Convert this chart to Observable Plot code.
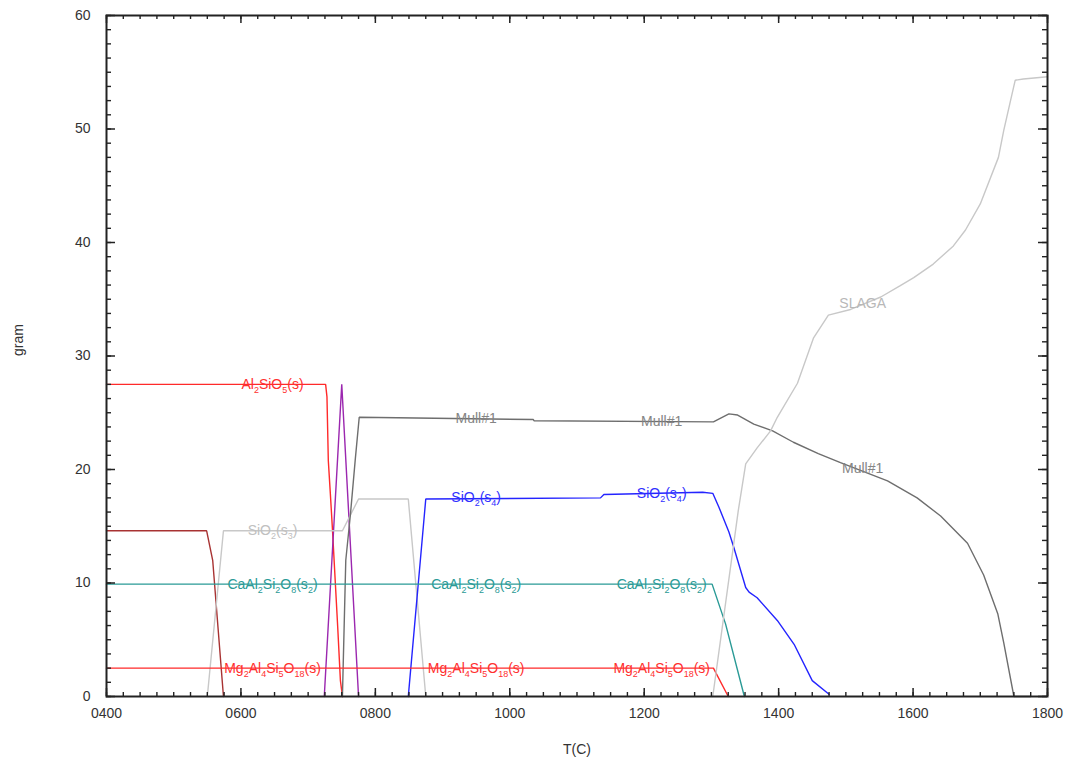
<!DOCTYPE html>
<html><head><meta charset="utf-8">
<script src="https://cdn.jsdelivr.net/npm/d3@7"></script>
<script src="https://cdn.jsdelivr.net/npm/@observablehq/plot@0.6"></script>
<style>body{margin:0;background:#fff;}</style>
</head><body><div id="chart"></div>
<script>
// ---- data: [T(C), gram] ----
const al2sio5 = [[400,27.5],[726,27.5],[728,26.4],[730,20.8],[733,17.9],[736,14.9],[744,6.1],[748,1.4],[751,0]];
const purpleSpike = [[724,0],[750,27.5],[775,0]];
const darkRed = [[400,14.6],[549,14.6],[558,12.0],[574,0]];
const sio2Light = [[550,0],[574,14.6],[751,14.6],[763,16.0],[775,17.4],[849,17.4],[875,0]];
const mull1 = [[751,0],[756,12],[763,16.1],[770,20.8],[776,24.6],[1035,24.4],[1036,24.3],[1303,24.2],[1326,24.9],[1339,24.8],[1363,24.0],[1391,23.4],[1422,22.4],[1459,21.4],[1492,20.6],[1562,19.0],[1606,17.5],[1641,15.9],[1681,13.5],[1705,10.7],[1726,7.3],[1735,4.7],[1750,0],[1775,0]];
const sio2s4 = [[849,0],[875,17.4],[1135,17.5],[1140,17.8],[1287,18.0],[1302,17.9],[1311,16.7],[1326,14.5],[1333,13.2],[1351,9.6],[1356,9.2],[1368,8.7],[1398,6.7],[1423,4.6],[1450,1.4],[1475,0.2]];
const caal2si2o8 = [[400,9.9],[1301,9.9],[1321,6.4],[1349,0]];
const mg2al4si5o18 = [[400,2.5],[1303,2.5],[1325,0]];
const slaga = [[1302,0],[1340,16.4],[1351,20.5],[1368,21.9],[1388,23.4],[1398,24.6],[1428,27.6],[1452,31.6],[1474,33.6],[1507,34.1],[1552,35.2],[1581,36.2],[1601,36.9],[1630,38.1],[1660,39.7],[1678,41.1],[1700,43.4],[1727,47.5],[1735,49.9],[1745,52.5],[1752,54.3],[1764,54.4],[1800,54.6]];

const seriesNames = ["Al2SiO5","purple","darkred","SiO2(s3)","Mull#1","SiO2(s4)","CaAl2Si2O8","Mg2Al4Si5O18","SLAGA"];
const seriesData  = [al2sio5, purpleSpike, darkRed, sio2Light, mull1, sio2s4, caal2si2o8, mg2al4si5o18, slaga];
const seriesColors = ["#ff2a2a","#9b27af","#a83232","#c8c8c8","#6e6e6e","#2424ff","#2a9a96","#ff2a2a","#c8c8c8"];

// labels drawn on the curves (underscore = subscript)
const labelTexts = ["Al_2SiO_5(s)","SiO_2(s_3)","CaAl_2Si_2O_8(s_2)","CaAl_2Si_2O_8(s_2)","CaAl_2Si_2O_8(s_2)",
  "Mg_2Al_4Si_5O_{18}(s)","Mg_2Al_4Si_5O_{18}(s)","Mg_2Al_4Si_5O_{18}(s)","SiO_2(s_4)","SiO_2(s_4)",
  "Mull#1","Mull#1","Mull#1","SLAGA"];
const labelT = [647,647,647,950,1226,647,950,1226,950,1226,950,1226,1525,1525];
const labelG = [27.5,14.6,9.9,9.9,9.9,2.5,2.5,2.5,17.5,17.9,24.5,24.2,20.1,34.6];
const labelColors = ["#ff3030","#c0c0c0","#2a9a96","#2a9a96","#2a9a96","#ff3030","#ff3030","#ff3030","#3030ff","#3030ff","#858585","#858585","#858585","#b8b8b8"];

const xTickValues = [400,600,800,1000,1200,1400,1600,1800];
const yTickValues = [0,10,20,30,40,50,60];
const xMinorStep = 25, yMinorStep = 1.25;

// ---- layout ----
const W = 1065, H = 765, ML = 106, MR = 18, MT = 15, MB = 69;
const FW = W - ML - MR, FH = H - MT - MB;
const font = "'Liberation Sans', Arial, sans-serif";
const axisColor = "#222";

const lineRows = seriesData.flatMap((arr, i) => arr.map(([T, g]) => ({T, g, name: seriesNames[i], color: seriesColors[i]})));
const labelRows = labelTexts.map((t, i) => ({text: t, T: labelT[i], g: labelG[i], color: labelColors[i]}));

const xMinor = d3.range(400, 1800 + 1e-9, xMinorStep);
const yMinor = d3.range(0, 60 + 1e-9, yMinorStep);

// inward tick marks on all four sides
const tickMarks = (len, major) => {
  const sw = major ? 1.5 : 1.4;
  const xs = major ? xTickValues : xMinor;
  const ys = major ? yTickValues : yMinor;
  return [
    Plot.ruleX(xs, {x: d => d, insetTop: FH - len, stroke: axisColor, strokeWidth: sw}),
    Plot.ruleX(xs, {x: d => d, insetBottom: FH - len, stroke: axisColor, strokeWidth: sw}),
    Plot.ruleY(ys, {y: d => d, insetRight: FW - len - 1, stroke: axisColor, strokeWidth: sw}),
    Plot.ruleY(ys, {y: d => d, insetLeft: FW - len - 1, stroke: axisColor, strokeWidth: sw})
  ];
};

const plot = Plot.plot({
  width: W, height: H,
  marginLeft: ML, marginRight: MR, marginTop: MT, marginBottom: MB,
  style: {fontFamily: font, fontSize: "14px", background: "#fff", color: "#222"},
  x: {domain: [400, 1800], label: null},
  y: {domain: [0, 60], label: null},
  color: {type: "identity"},
  marks: [
    Plot.line(lineRows, {x: "T", y: "g", z: "name", stroke: "color", strokeWidth: 1.4, strokeLinejoin: "miter"}),
    Plot.text(labelRows, {x: "T", y: "g", text: "text", fill: "color", fontSize: 14, className: "sublabel"}),
    Plot.frame({stroke: axisColor, strokeWidth: 2}),
    ...tickMarks(4, false),
    ...tickMarks(8, true),
    Plot.axisX({ticks: xTickValues, tickFormat: d3.format("04d"), tickSize: 0, tickPadding: 12, fontSize: 14, fill: "#333", label: null}),
    Plot.axisY({ticks: yTickValues, tickFormat: d => String(d), tickSize: 0, tickPadding: 16, fontSize: 14, fill: "#333", label: null}),
    Plot.text(["gram"], {text: d => d, frameAnchor: "left", dx: -88, rotate: -90, fontSize: 14, fill: "#333"}),
    Plot.text(["T(C)"], {text: d => d, frameAnchor: "bottom", dy: 57, fontSize: 14, fill: "#333"})
  ]
});

// subscripts in curve labels
const NS = "http://www.w3.org/2000/svg";
plot.querySelectorAll(".sublabel text").forEach(t => {
  const s = t.textContent;
  t.textContent = "";
  const re = /_(\{([^}]*)\}|(.))/g;
  let last = 0, m, isSub = false;
  const add = (str, sub) => {
    if (!str) return;
    const sp = document.createElementNS(NS, "tspan");
    sp.textContent = str;
    if (sub && !isSub) { sp.setAttribute("dy", "4"); }
    if (!sub && isSub) { sp.setAttribute("dy", "-4"); }
    if (sub) sp.setAttribute("font-size", "9");
    isSub = sub;
    t.appendChild(sp);
  };
  while ((m = re.exec(s))) {
    add(s.slice(last, m.index), false);
    add(m[2] !== undefined ? m[2] : m[3], true);
    last = re.lastIndex;
  }
  add(s.slice(last), false);
});

document.getElementById("chart").appendChild(plot);
</script>
</body></html>
